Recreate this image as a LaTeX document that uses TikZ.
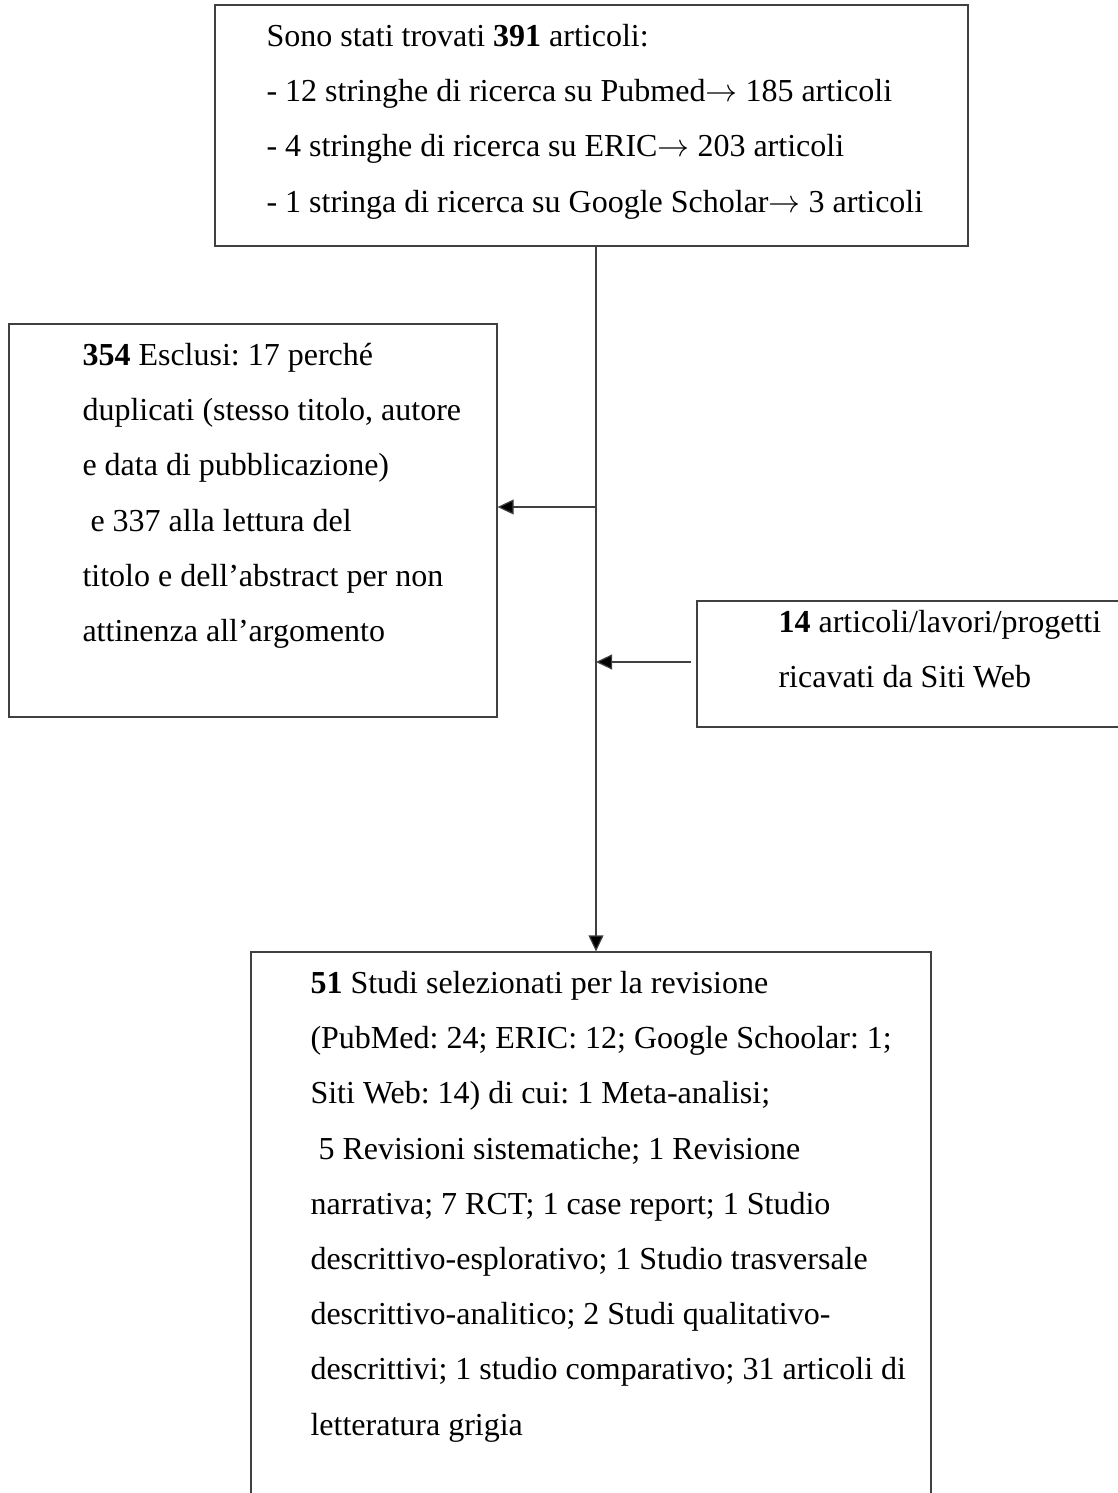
\documentclass[tikz,border=0pt]{standalone}
\usepackage{fontspec}
\setmainfont{Liberation Serif}
\usetikzlibrary{arrows.meta,fit}
\setlength{\parindent}{0pt}
\frenchspacing
\tikzset{
  box/.style={draw=black!75, line width=0.45pt, inner sep=0pt},
  txt/.style={anchor=north west, inner sep=0pt, text width=#1, align=flush left,
    font=\fontsize{12pt}{20.7pt}\selectfont},
  link/.style={draw=black!75, line width=0.45pt,
    -{Triangle[length=6pt,width=5.6pt,fill=black]}}
}
\begin{document}
\begin{tikzpicture}[x=0.375pt,y=-0.375pt]
    \useasboundingbox (0,0) rectangle (1118,1493);
    \node[box, fit={(215,5) (968,246)}] (search) {};
    \node[box, fit={(9,324) (497,717)}] (excluded) {};
    \node[box, fit={(697,601) (1125,727)}] (web) {};
    \node[box, fit={(251,952) (931,1500)}] (selected) {};
    \node[txt=270pt] (searchtext) at (266,7.4) {\strut Sono stati trovati \textbf{391} articoli:\\
        - 12 stringhe di ricerca su Pubmed$\rightarrow$ 185 articoli\\
        - 4 stringhe di ricerca su ERIC$\rightarrow$ 203 articoli\\
        - 1 stringa di ricerca su Google Scholar$\rightarrow$ 3 articoli};
    \node[txt=155pt] (excludedtext) at (82,326.4) {\strut \textbf{354} Esclusi: 17 perché\\
        duplicati (stesso titolo, autore\\
        e data di pubblicazione)\\
        \hspace*{3pt}e 337 alla lettura del\\
        titolo e dell’abstract per non\\
        attinenza all’argomento};
    \node[txt=140pt] (webtext) at (778,593.4) {\strut \textbf{14} articoli/lavori/progetti\\
        ricavati da Siti Web};
    \node[txt=240pt] (selectedtext) at (310,954.4) {\strut \textbf{51} Studi selezionati per la revisione\\
        (PubMed: 24; ERIC: 12; Google Schoolar: 1;\\
        Siti Web: 14) di cui: 1 Meta-analisi;\\
        \hspace*{3pt}5 Revisioni sistematiche; 1 Revisione\\
        narrativa; 7 RCT; 1 case report; 1 Studio\\
        descrittivo-esplorativo; 1 Studio trasversale\\
        descrittivo-analitico; 2 Studi qualitativo-\\
        descrittivi; 1 studio comparativo; 31 articoli di\\
        letteratura grigia};
    \coordinate (trunk) at (596,0);
    \coordinate (webin) at (691,662);
    \draw[link] (search.south -| trunk) -- (selected.north -| trunk);
    \draw[link] (trunk |- 0,507) -- (excluded.east |- 0,507);
    \draw[link] (webin) -- (trunk |- webin);
\end{tikzpicture}
\end{document}
